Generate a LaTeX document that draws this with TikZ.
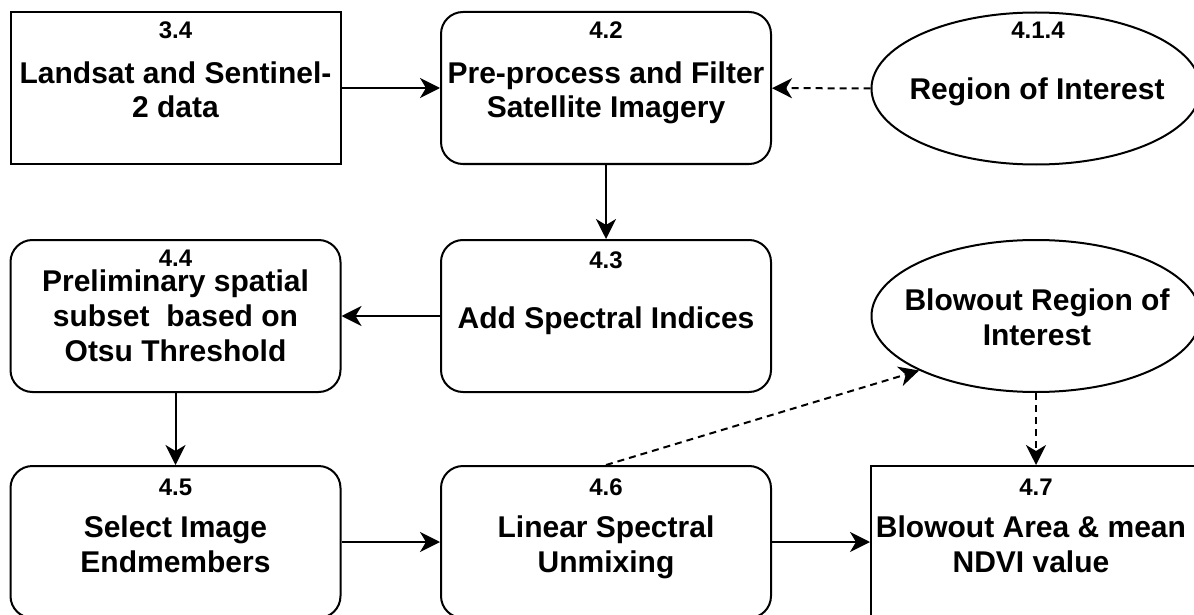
\documentclass[tikz,border=0pt]{standalone}
\usepackage{fontspec}
\setmainfont{Liberation Sans}
\usetikzlibrary{arrows.meta,shapes.geometric}
\newcommand\maintxt{\fontsize{30}{35}\selectfont\bfseries}
\newcommand\numtxt{\fontsize{24}{28}\selectfont\bfseries}
\begin{document}
\begin{tikzpicture}[x=1pt,y=-1pt,
  box/.style={draw, line width=2pt, minimum width=330pt, minimum height=152pt, inner sep=0pt},
  rbox/.style={box, rounded corners=22pt},
  oval/.style={ellipse, draw, line width=2pt, minimum width=329pt, minimum height=152pt, inner sep=0pt},
  txt/.style={font=\maintxt, align=center, inner sep=0pt},
  num/.style={font=\numtxt, inner sep=0pt},
  flow/.style={line width=2pt, -{Stealth[length=20pt,width=20pt,inset=6pt]}},
  dflow/.style={flow, dash pattern=on 7pt off 5pt},
]
\clip (0,0) rectangle (1194,615);
\fill[white] (0,0) rectangle (1194,615);

% top row
\node[box]  (b34) at (175.5,88) {};
\node[txt]  (t34) at (175.5,93.5) {\strut Landsat and Sentinel-\\2 data\strut};
\node[num]  (n34) at (175.5,30) {3.4};
\node[rbox] (b42) at (606,88) {};
\node[txt]  (t42) at (606,93.5) {\strut Pre-process and Filter\\Satellite Imagery\strut};
\node[num]  (n42) at (606,30) {4.2};
\node[oval] (e414) at (1036,88.5) {};
\node[txt]  (t414) at (1037,93) {\strut Region of Interest\strut};
\node[num]  (n414) at (1038,30) {4.1.4};

% middle row: the first line of 4.4 sits just under its number
\node[rbox] (b44) at (175.5,316) {};
\node[txt]  (t44) at (175.5,321) {Preliminary spatial\\subset\ \ based on\\Otsu Threshold\strut};
\node[num]  (n44) at (175.5,258.5) {4.4};
\node[rbox] (b43) at (606,316) {};
\node[txt]  (t43) at (606,321) {\strut Add Spectral Indices\strut};
\node[num]  (n43) at (606,260) {4.3};
\node[oval] (e2) at (1036,316) {};
\node[txt]  (t2) at (1037,321) {\strut Blowout Region of\\Interest\strut};

% bottom row
\node[rbox] (b45) at (175.5,542) {};
\node[txt]  (t45) at (175.5,547.5) {\strut Select Image\\Endmembers\strut};
\node[num]  (n45) at (175.5,487.5) {4.5};
\node[rbox] (b46) at (606,542) {};
\node[txt]  (t46) at (606,547.5) {\strut Linear Spectral\\Unmixing\strut};
\node[num]  (n46) at (606,487.5) {4.6};
\node[box]  (b47) at (1036,542) {};
\node[txt]  (t47) at (1031,547.5) {\strut Blowout Area \& mean\\NDVI value\strut};
\node[num]  (n47) at (1036,487.5) {4.7};

% connectors
\draw[flow]  (b34) -- (b42);
\draw[dflow] (e414) -- (b42);
\draw[flow]  (b42) -- (b43);
\draw[flow]  (b43) -- (b44);
\draw[flow]  (b44) -- (b45);
\draw[flow]  (b45) -- (b46);
\draw[flow]  (b46) -- (b47);
\draw[dflow] (b46.north) -- (e2.205);
\draw[dflow] (e2.south) -- (b47.north);
\end{tikzpicture}
\end{document}
